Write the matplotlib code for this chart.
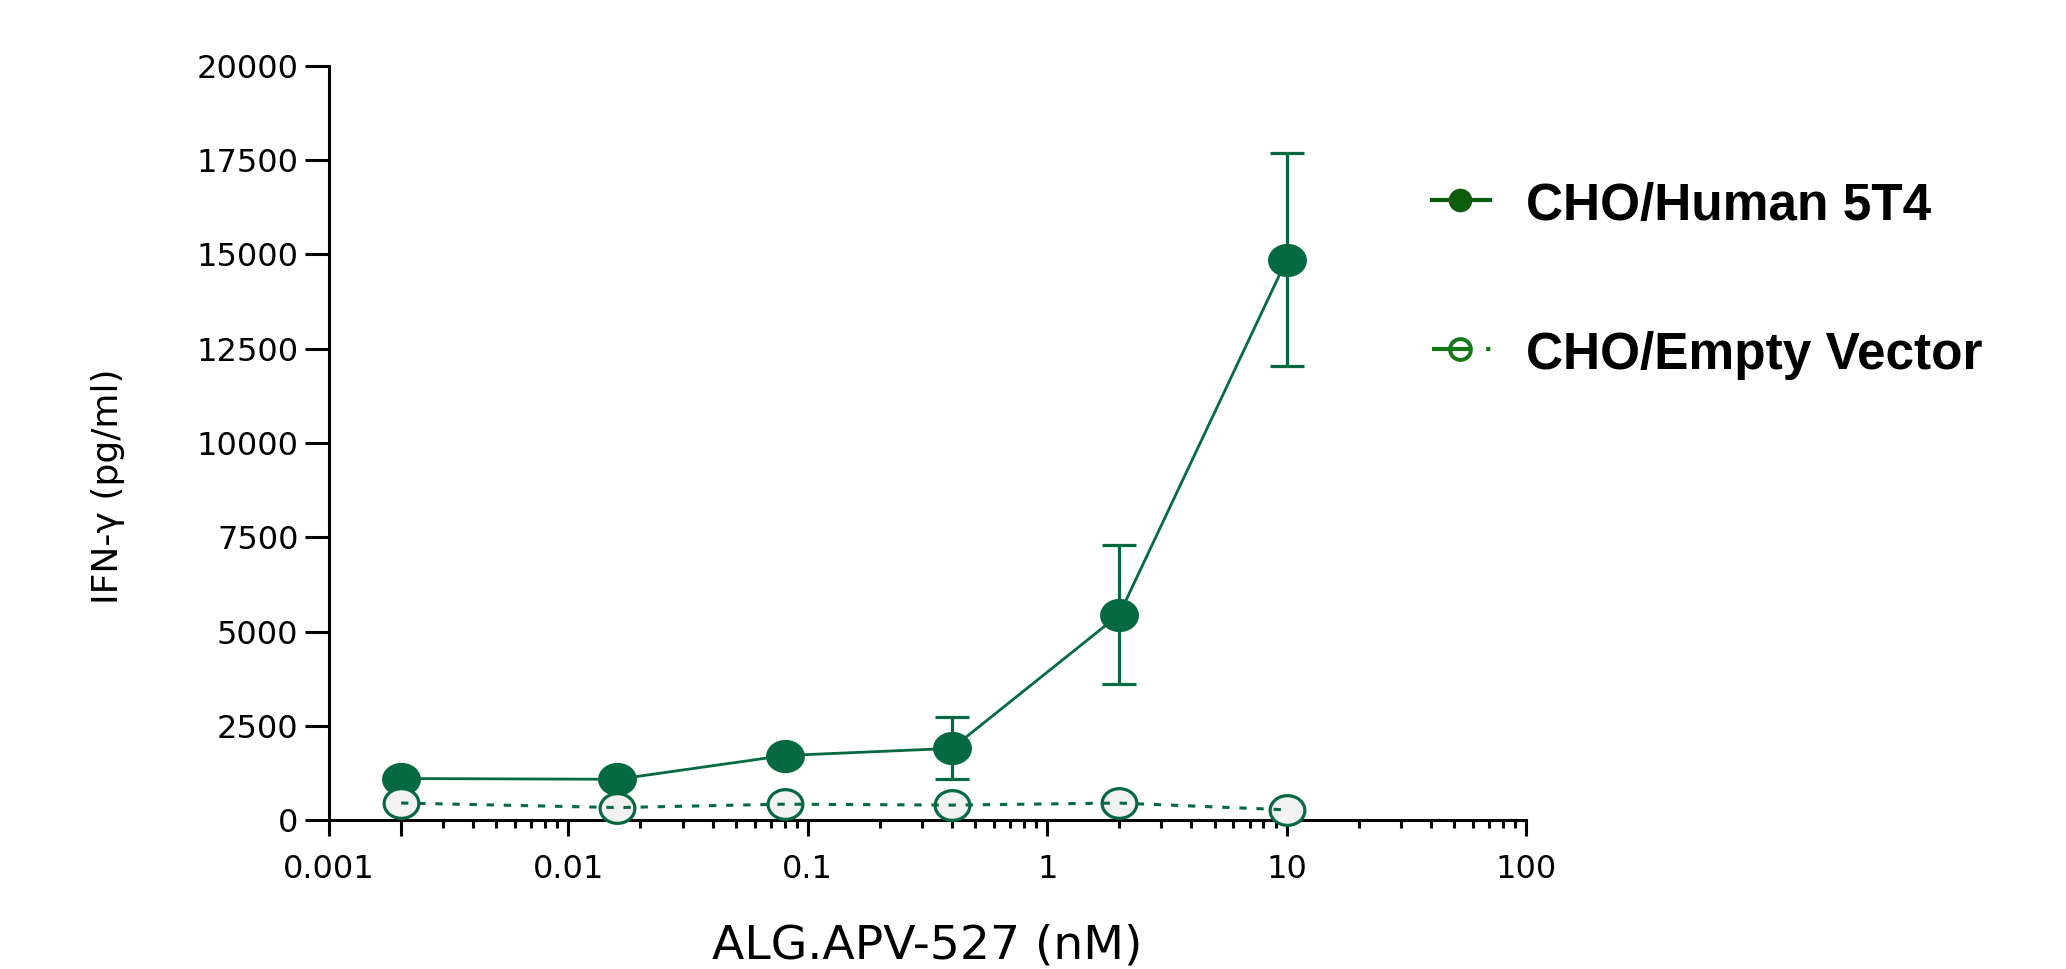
import numpy as np
import matplotlib
matplotlib.use('Agg')
import matplotlib.pyplot as plt
from matplotlib.path import Path
from matplotlib.lines import Line2D
from matplotlib.ticker import LogLocator, NullFormatter

# data
conc = [0.002, 0.016, 0.08, 0.4, 2, 10]
human_5t4 = [1100, 1080, 1710, 1900, 5450, 14860]
human_5t4_err = [90, 80, 100, 820, 1850, 2830]
empty_vector = [450, 330, 420, 395, 450, 270]

# the original also draws a long tick at 0.002, without a label
xticks = [0.001, 0.002, 0.01, 0.1, 1, 10, 100]
xtick_labels = ['0.001', '', '0.01', '0.1', '1', '10', '100']
yticks = [0, 2500, 5000, 7500, 10000, 12500, 15000, 17500, 20000]
ytick_labels = ['0', '2500', '5000', '7500', '10000', '12500', '15000', '17500', '20000']
labels = ['CHO/Human 5T4', 'CHO/Empty Vector']

green = '#056941'
W, H = 2066, 969

# slightly wide ellipse marker, like the stretched original
t = np.linspace(0, 2 * np.pi, 73)
ellipse = Path(np.column_stack([0.5 * np.cos(t), 0.5 * np.sin(t) / 1.17]), closed=True)

fig = plt.figure(figsize=(W / 100, H / 100), dpi=100)
ax = fig.add_axes([329 / W, 1 - 820 / H, (1526 - 329) / W, (820 - 66) / H])

ax.errorbar(conc, human_5t4, yerr=human_5t4_err, fmt='none', ecolor=green,
            capsize=12.2, elinewidth=2.3, capthick=2.3, clip_on=False, zorder=2)
ax.plot(conc, human_5t4, color=green, lw=2, marker=ellipse, ms=28, mew=0,
        clip_on=False, zorder=3)
ax.plot(conc, empty_vector, ls='none', marker=ellipse, ms=25, mfc='#f2f2f2',
        mec=green, mew=2.3, clip_on=False, zorder=4)
ax.plot(conc, empty_vector, color=green, lw=2.2, dashes=(2.4, 3.2),
        clip_on=False, zorder=5)

ax.set_xscale('log')
ax.set_xlim(0.001, 100)
ax.set_ylim(0, 20000)
ax.set_xticks(xticks, xtick_labels)
ax.xaxis.set_minor_locator(LogLocator(base=10, subs=np.arange(2, 10)))
ax.xaxis.set_minor_formatter(NullFormatter())
ax.set_yticks(yticks, ytick_labels)

for s in ['top', 'right']:
    ax.spines[s].set_visible(False)
for s in ['left', 'bottom']:
    ax.spines[s].set_linewidth(2.2)

ax.tick_params(axis='x', which='major', length=11.5, width=2.2, pad=13, labelsize=23)
ax.tick_params(axis='x', which='minor', length=6, width=2.2)
ax.tick_params(axis='y', which='major', length=17, width=2.2, pad=5, labelsize=23)

ax.set_xlabel('ALG.APV-527 (nM)', fontsize=34, va='center')
ax.xaxis.set_label_coords(0.5, -0.167)
ax.set_ylabel('IFN-\u03b3 (pg/ml)', fontsize=26, va='center')
ax.yaxis.set_label_coords(-0.185, 0.442)

# legend drawn by hand, to the right of the plot
def fx(px):
    return px / W

def fy(py):
    return 1 - py / H

fig.add_artist(Line2D([fx(1432), fx(1490)], [fy(200), fy(200)], color='#0b5d0b', lw=3,
                      transform=fig.transFigure))
fig.add_artist(Line2D([fx(1460)], [fy(200)], ls='none', marker='o', ms=17,
                      color='#0b5d0b', mew=0, transform=fig.transFigure))
fig.add_artist(Line2D([fx(1460)], [fy(349)], ls='none', marker='o', ms=15, mfc='white',
                      mec='#137813', mew=2.8, transform=fig.transFigure))
fig.add_artist(Line2D([fx(1432), fx(1492)], [fy(349), fy(349)], color='#137813', lw=3,
                      dashes=(9.5, 3.5, 1.0, 10), transform=fig.transFigure, zorder=5))
fig.text(fx(1526), fy(220), labels[0], fontsize=37, family='Liberation Sans',
         weight='bold', va='baseline')
fig.text(fx(1526), fy(369), labels[1], fontsize=37, family='Liberation Sans',
         weight='bold', va='baseline')

fig.savefig('out.png', dpi=100)
